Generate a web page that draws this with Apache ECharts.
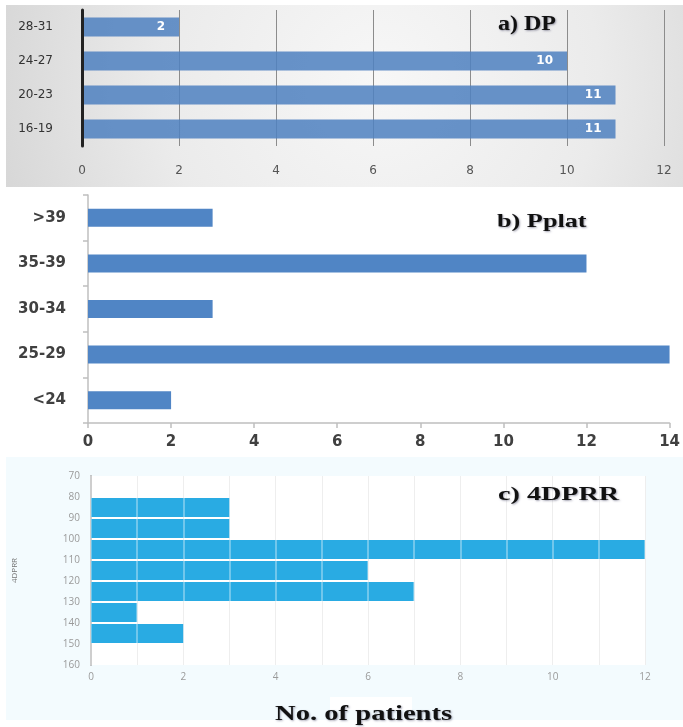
<!DOCTYPE html>
<html>
<head>
<meta charset="utf-8">
<style>
  html, body { margin: 0; padding: 0; background: #ffffff; }
  #chart { width: 683px; height: 727px; }
</style>
<script src="https://cdn.jsdelivr.net/npm/echarts@6/dist/echarts.min.js"></script>
</head>
<body>
<div id="chart"></div>
<script>
// a) DP — driving pressure groups (bottom to top)
const dpCategories = ['16-19', '20-23', '24-27', '28-31'];
const dpPatients = [11, 11, 10, 2];

// b) Pplat — plateau pressure groups (bottom to top)
const pplatCategories = ['<24', '25-29', '30-34', '35-39', '>39'];
const pplatPatients = [2, 14, 3, 12, 3];

// c) 4DPRR — bins of width 10 between 70 and 160 (top to bottom)
const prrBins = ['70-80', '80-90', '90-100', '100-110', '110-120', '120-130', '130-140', '140-150', '150-160'];
const prrPatients = [0, 3, 3, 12, 6, 7, 1, 2, 0];

const serif = '"Liberation Serif", "Times New Roman", serif';

const chart = echarts.init(document.getElementById('chart'), null, { renderer: 'canvas' });

const titleText = (txt, x, y, size, sx) => ({
  type: 'text', x: x, y: y, scaleX: sx, z: 100,
  style: {
    text: txt, fill: '#111', textAlign: 'left', textVerticalAlign: 'middle',
    font: 'bold ' + size + 'px ' + serif,
    textShadowColor: 'rgba(0,0,40,0.35)', textShadowBlur: 2, textShadowOffsetX: 1, textShadowOffsetY: 1
  }
});

chart.setOption({
  animation: false,
  backgroundColor: '#ffffff',
  graphic: [
    { type: 'rect', shape: { x: 6, y: 5, width: 677, height: 182 }, z: -10,
      style: { fill: new echarts.graphic.RadialGradient(380, 80, 400, [
        { offset: 0, color: '#f7f7f7' }, { offset: 0.55, color: '#ebebeb' }, { offset: 1, color: '#d6d6d6' }], true) } },
    { type: 'rect', shape: { x: 6, y: 457, width: 677, height: 263 }, z: -10,
      style: { fill: '#f3fbfe' } },
    { type: 'rect', shape: { x: 330, y: 697, width: 82, height: 13 }, z: -5,
      style: { fill: '#ffffff' } },
    titleText('a) DP', 498, 25, 20, 1.2),
    titleText('b) Pplat', 497, 222, 19, 1.38),
    titleText('c) 4DPRR', 498, 495, 19, 1.48),
    titleText('No. of patients', 275, 714, 22, 1.3)
  ],
  grid: [
    { left: 82, top: 10, width: 582, height: 136 },
    { left: 88, top: 195, width: 590, height: 228 },
    { left: 91, top: 476, width: 554, height: 189, show: true, backgroundColor: '#ffffff', borderWidth: 0 }
  ],
  xAxis: [
    { gridIndex: 0, type: 'value', min: 0, max: 12, interval: 2,
      axisLine: { show: false }, axisTick: { show: false },
      splitLine: { show: true, lineStyle: { color: '#8c8c8c', width: 1 } },
      axisLabel: { fontFamily: 'DejaVu Sans', fontSize: 12, color: '#555', margin: 19 } },
    { gridIndex: 1, type: 'value', min: 0, max: 14, interval: 2,
      axisLine: { show: true, lineStyle: { color: '#bfbfbf', width: 1.5 } },
      axisTick: { show: true, length: 5, lineStyle: { color: '#bfbfbf', width: 1.5 } },
      splitLine: { show: false },
      axisLabel: { fontFamily: 'DejaVu Sans', fontWeight: 'bold', fontSize: 15, color: '#404040', margin: 12 } },
    { gridIndex: 2, type: 'value', min: 0, max: 12, interval: 1, position: 'bottom',
      axisLine: { show: false }, axisTick: { show: false },
      splitLine: { show: true, lineStyle: { color: '#e6e6e6', width: 1 } },
      axisLabel: { fontFamily: 'Open Sans', fontSize: 10, color: '#9a9a9a', margin: 7,
        formatter: v => (v % 2 === 0 ? String(v) : '') } },
    { gridIndex: 2, type: 'value', min: 0, max: 12, interval: 1, position: 'top', z: 10,
      axisLine: { show: false }, axisTick: { show: false }, axisLabel: { show: false },
      splitLine: { show: true, lineStyle: { color: 'rgba(255,255,255,0.45)', width: 1.5 } } }
  ],
  yAxis: [
    { gridIndex: 0, type: 'category', data: dpCategories, z: 5,
      axisLine: { show: true, lineStyle: { color: '#222', width: 3 } },
      axisTick: { show: false },
      axisLabel: { fontFamily: 'DejaVu Sans', fontSize: 12, color: '#333', margin: 29 } },
    { gridIndex: 1, type: 'category', data: pplatCategories,
      axisLine: { show: true, lineStyle: { color: '#bfbfbf', width: 1.5 } },
      axisTick: { show: true, length: 5, lineStyle: { color: '#bfbfbf', width: 1.5 } },
      axisLabel: { fontFamily: 'DejaVu Sans', fontWeight: 'bold', fontSize: 15, color: '#404040', margin: 22 } },
    { gridIndex: 2, type: 'value', inverse: true, min: 70, max: 160, interval: 10, position: 'left',
      name: '4DPRR', nameLocation: 'middle', nameGap: 72,
      nameTextStyle: { fontFamily: 'Open Sans', fontSize: 8, color: '#777' },
      axisLine: { show: true, lineStyle: { color: '#b5b5b5', width: 2 } },
      axisTick: { show: false }, splitLine: { show: false },
      axisLabel: { fontFamily: 'Open Sans', fontSize: 10, color: '#9a9a9a', margin: 11 } },
    { gridIndex: 2, type: 'category', inverse: true, data: prrBins, show: false, position: 'left' }
  ],
  series: [
    { type: 'bar', xAxisIndex: 0, yAxisIndex: 0, data: dpPatients, barWidth: 19,
      itemStyle: { color: 'rgba(79,129,192,0.86)' },
      label: { show: true, position: 'insideRight', distance: 14, color: '#fff',
        fontFamily: 'DejaVu Sans', fontWeight: 'bold', fontSize: 12 } },
    { type: 'bar', xAxisIndex: 1, yAxisIndex: 1, data: pplatPatients, barWidth: 18,
      itemStyle: { color: '#5085c5' } },
    { type: 'bar', xAxisIndex: 2, yAxisIndex: 3, data: prrPatients, barCategoryGap: '9%',
      itemStyle: { color: '#29abe3' } }
  ]
});
</script>
</body>
</html>
